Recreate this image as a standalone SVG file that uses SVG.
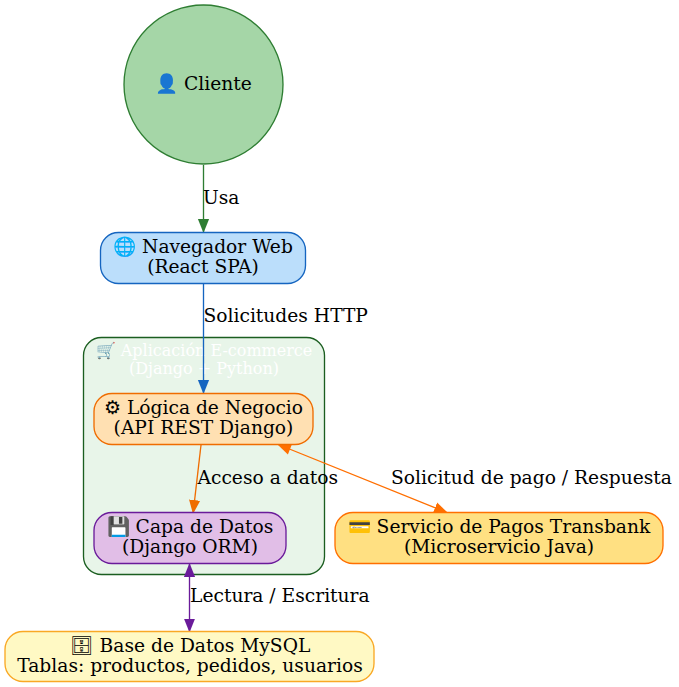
<svg xmlns="http://www.w3.org/2000/svg" width="679" height="687" viewBox="0 0 679 687">
<style>
text{font-family:"DejaVu Serif",serif;font-size:18.67px;text-anchor:middle;fill:#000}
.l{text-anchor:start}
text.w{fill:#fff;font-size:16px}
rect,circle{stroke-width:1.33}
.e{fill:none;stroke-width:1.33}
</style>
<defs>
<marker id="ag" markerUnits="userSpaceOnUse" markerWidth="15" markerHeight="14" refX="14" refY="7" orient="auto"><path d="M0 1.400L14 7L0 12.600z" fill="#2e7d32"/></marker>
<marker id="ab" markerUnits="userSpaceOnUse" markerWidth="15" markerHeight="14" refX="14" refY="7" orient="auto"><path d="M0 1.400L14 7L0 12.600z" fill="#1565c0"/></marker>
<marker id="ao" markerUnits="userSpaceOnUse" markerWidth="15" markerHeight="14" refX="14" refY="7" orient="auto"><path d="M0 1.400L14 7L0 12.600z" fill="#ef6c00"/></marker>
<marker id="ar" markerUnits="userSpaceOnUse" markerWidth="15" markerHeight="14" refX="14" refY="7" orient="auto"><path d="M0 1.400L14 7L0 12.600z" fill="#ff6f00"/></marker>
<marker id="arr" markerUnits="userSpaceOnUse" markerWidth="15" markerHeight="14" refX="0" refY="7" orient="auto"><path d="M14 1.400L0 7L14 12.600z" fill="#ff6f00"/></marker>
<marker id="ap" markerUnits="userSpaceOnUse" markerWidth="15" markerHeight="14" refX="14" refY="7" orient="auto"><path d="M0 1.400L14 7L0 12.600z" fill="#6a1b9a"/></marker>
<marker id="apr" markerUnits="userSpaceOnUse" markerWidth="15" markerHeight="14" refX="0" refY="7" orient="auto"><path d="M14 1.400L0 7L14 12.600z" fill="#6a1b9a"/></marker>
</defs>
<rect width="679" height="687" fill="#fff" stroke="none"/>
<g id="cluster">
<rect x="83.500" y="337.500" width="241" height="237" rx="18" fill="#e8f5e9" stroke="#1b5e20"/>
<text class="w" x="204" y="356">&#x1F6D2; Aplicación E-commerce</text>
<text class="w" x="204" y="373.500">(Django + Python)</text>
</g>
<g id="connectors">
<path class="e" d="M203.500 165V233" stroke="#2e7d32" marker-end="url(#ag)"/>
<path class="e" d="M203.500 284V394" stroke="#1565c0" marker-end="url(#ab)"/>
<path class="e" d="M201 445L193 514" stroke="#ef6c00" marker-end="url(#ao)"/>
<path class="e" d="M277 444L448 513" stroke="#ff6f00" marker-start="url(#arr)" marker-end="url(#ar)"/>
<path class="e" d="M189.500 563V632.500" stroke="#6a1b9a" marker-start="url(#apr)" marker-end="url(#ap)"/>
<text class="l" x="203" y="204">Usa</text>
<text class="l" x="203.500" y="322">Solicitudes HTTP</text>
<text class="l" x="197.500" y="484">Acceso a datos</text>
<text class="l" x="391" y="484">Solicitud de pago / Respuesta</text>
<text class="l" x="190" y="602">Lectura / Escritura</text>
</g>
<g id="cliente"><circle cx="203.500" cy="84.500" r="79.500" fill="#a5d6a7" stroke="#2e7d32"/><text x="203.500" y="90">&#x1F464; Cliente</text></g>
<g id="navegador"><rect x="100.500" y="232.500" width="205" height="51" rx="18" fill="#bbdefb" stroke="#1565c0"/><text x="203" y="253">&#x1F310; Navegador Web</text><text x="203" y="273">(React SPA)</text></g>
<g id="logica"><rect x="94" y="393.500" width="219" height="51" rx="18" fill="#ffe0b2" stroke="#ef6c00"/><text x="203.500" y="414">⚙ Lógica de Negocio</text><text x="203.500" y="434">(API REST Django)</text></g>
<g id="datos"><rect x="94" y="512.500" width="192" height="51" rx="18" fill="#e1bee7" stroke="#6a1b9a"/><text x="190" y="533">&#x1F4BE; Capa de Datos</text><text x="190" y="553">(Django ORM)</text></g>
<g id="pagos"><rect x="335" y="512.500" width="328" height="51" rx="18" fill="#ffe082" stroke="#ff6f00"/><text x="499" y="533">&#x1F4B3; Servicio de Pagos Transbank</text><text x="499" y="553">(Microservicio Java)</text></g>
<g id="mysql"><rect x="5" y="631.500" width="369" height="50" rx="18" fill="#fff9c4" stroke="#f9a825"/><text x="190" y="652">&#x1F5C4; Base de Datos MySQL</text><text x="190" y="672">Tablas: productos, pedidos, usuarios</text></g>
</svg>
